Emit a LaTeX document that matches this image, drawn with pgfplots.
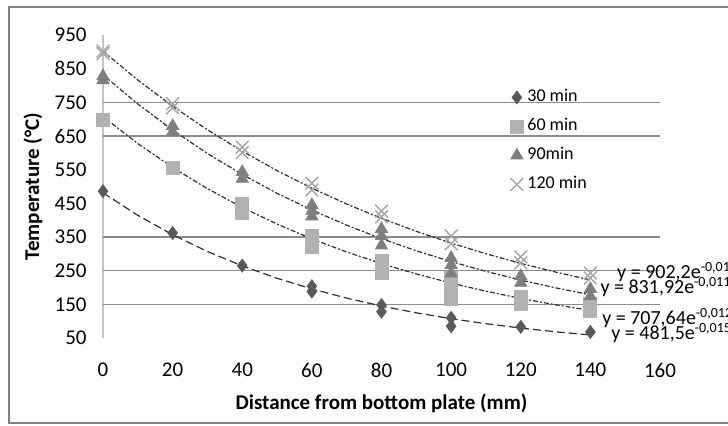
\documentclass[border=0pt]{standalone}
\usepackage{fontspec}
\setmainfont{Carlito}
\usepackage{pgfplots}
\pgfplotsset{compat=1.18}
\definecolor{diam}{HTML}{595959}
\definecolor{sq}{HTML}{B2B2B2}
\definecolor{tri}{HTML}{7F7F7F}
\definecolor{crs}{HTML}{A5A5A5}
\definecolor{gridc}{HTML}{8C8C8C}
\definecolor{trend}{HTML}{303030}
\begin{document}
\begin{tikzpicture}
\begin{axis}[
  scale only axis,
  width=278.5pt, height=151.5pt,
  xmin=0, xmax=160, ymin=50, ymax=950,
  xtick={0,20,...,160}, ytick={50,150,...,950},
  axis lines*=left,
  x axis line style={draw=none},
  y axis line style={draw=gray!45, line width=0.8pt},
  major tick length=0pt,
  extra y ticks={150,250,350,650,750},
  extra y tick labels={},
  extra y tick style={grid=major},
  major grid style={draw=gridc, line width=0.6pt},
  tick label style={font=\fontsize{10.5}{12}\selectfont},
  /pgf/number format/assume math mode=true,
  xticklabel style={anchor=center, yshift=-16pt},
  yticklabel style={anchor=east, inner sep=0pt, xshift=-8pt},
  xlabel={\bfseries Distance from bottom plate (mm)},
  xlabel style={at={(axis description cs:0.5,-0.2145)}, anchor=center, font=\fontsize{10.5}{12}\selectfont},
  ylabel={\bfseries Temperature (°C)},
  ylabel style={at={(axis description cs:-0.1257,0.5)}, anchor=center, font=\fontsize{10.5}{12}\selectfont},
  clip=false,
  legend image code/.code={\draw[mark repeat=1,mark phase=1,#1] plot coordinates {(0pt,0pt)};},
  legend style={draw=none, fill=none, at={(rel axis cs:0.7307,0.820)}, anchor=north west,
    font=\fontsize{9}{10}\selectfont, inner sep=0pt, row sep=7pt, column sep=2pt,
    nodes={inner sep=0pt, text height=6pt, text depth=1.5pt}},
  legend cell align=left,
]
% measured points
\addplot[only marks, mark=diamond*, mark size=3.2pt, color=diam] coordinates {
  (0,486)(20,362)(40,265)(60,204)(60,188)(80,148)(80,128)(100,110)(100,85)(120,83)(140,68)};
\addplot[only marks, mark=square*, mark size=3.25pt, color=sq] coordinates {
  (0,697)(20,555)(40,447)(40,422)(60,352)(60,321)(80,279)(80,242)(100,228)(100,196)(100,167)
  (120,172)(120,150)(140,152)(140,130)};
\addplot[only marks, mark=triangle*, mark size=3.5pt, color=tri] coordinates {
  (0,828)(0,816)(20,680)(20,662)(40,543)(40,523)(60,445)(60,428)(60,411)(80,374)(80,353)(80,325)
  (100,288)(100,267)(100,242)(120,234)(120,214)(140,196)(140,174)};
\addplot[only marks, mark=x, mark size=4.5pt, color=crs, mark options={line width=0.7pt}] coordinates {
  (0,902)(0,895)(20,746)(20,734)(40,617)(40,601)(60,510)(60,490)(80,427)(80,410)(100,353)(100,330)
  (120,291)(120,273)(140,243)(140,228)};
\legend{30 min, 60 min, 90min, 120 min}
% exponential trendlines (values of the printed fits)
\addplot[forget plot, no marks, trend, line width=0.6pt, dash pattern=on 4pt off 2pt] coordinates {
  (0,481.5)(10,414.4)(20,356.7)(30,307.0)(40,264.2)(50,227.4)(60,195.8)(70,168.5)(80,145.0)
  (90,124.8)(100,107.4)(110,92.5)(120,79.6)(130,68.5)(140,59.0)};
\addplot[forget plot, no marks, trend, line width=0.6pt, dash pattern=on 2.5pt off 1pt on 1pt off 1pt] coordinates {
  (0,707.6)(10,627.6)(20,556.6)(30,493.7)(40,437.9)(50,388.4)(60,344.5)(70,305.5)(80,271.0)
  (90,240.3)(100,213.1)(110,189.0)(120,167.6)(130,148.7)(140,131.9)};
\addplot[forget plot, no marks, trend, line width=0.6pt, dash pattern=on 2.5pt off 1pt on 1pt off 1pt] coordinates {
  (0,831.9)(10,745.2)(20,667.6)(30,598.1)(40,535.8)(50,479.9)(60,430.0)(70,385.2)(80,345.1)
  (90,309.1)(100,276.9)(110,248.1)(120,222.2)(130,199.1)(140,178.4)};
\addplot[forget plot, no marks, trend, line width=0.6pt, dash pattern=on 2.5pt off 1pt on 1pt off 1pt] coordinates {
  (0,902.2)(10,816.3)(20,738.6)(30,668.4)(40,604.8)(50,547.2)(60,495.1)(70,448.0)(80,405.4)
  (90,366.8)(100,331.9)(110,300.3)(120,271.7)(130,245.9)(140,222.5)};
% fit equations
\node[anchor=west, inner sep=0pt, font=\fontsize{10}{12}\selectfont] at (axis cs:147.6,246) {y = 902,2e\textsuperscript{-0,01x}};
\node[anchor=west, inner sep=0pt, font=\fontsize{10}{12}\selectfont] at (axis cs:142.8,201.5) {y = 831,92e\textsuperscript{-0,011x}};
\node[anchor=west, inner sep=0pt, font=\fontsize{10}{12}\selectfont] at (axis cs:143.3,109.4) {y = 707,64e\textsuperscript{-0,012x}};
\node[anchor=west, inner sep=0pt, font=\fontsize{10}{12}\selectfont] at (axis cs:145.9,64.9) {y = 481,5e\textsuperscript{-0,015x}};
\end{axis}
\draw[gray, line width=0.75pt] (-47pt,-42.5pt) rectangle (316pt,165.5pt);
\pgfresetboundingbox
\path[use as bounding box] (-51.5pt,-43.5pt) rectangle (312.5pt,169pt);
\end{tikzpicture}
\end{document}
